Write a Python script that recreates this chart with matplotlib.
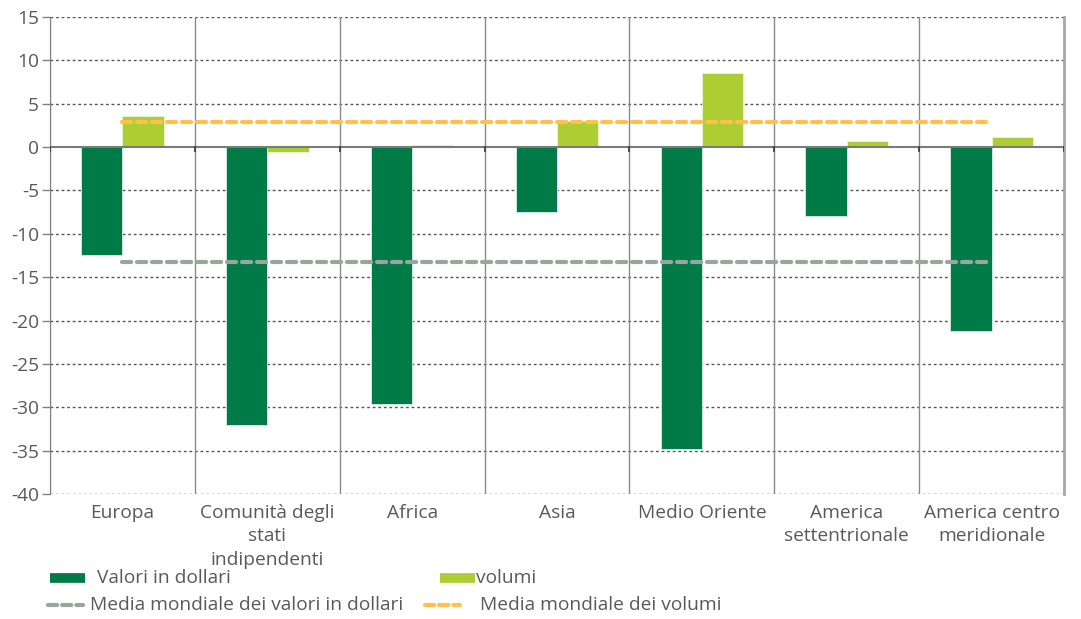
import matplotlib
matplotlib.use("Agg")
import matplotlib.pyplot as plt
from matplotlib.lines import Line2D
import numpy as np

categories = ["Europa", "Comunità degli\nstati\nindipendenti", "Africa", "Asia",
              "Medio Oriente", "America\nsettentrionale", "America centro\nmeridionale"]
valori_dollari = [-12.5, -32.0, -29.6, -7.5, -34.8, -8.0, -21.2]
volumi = [3.6, -0.6, 0.2, 3.0, 8.5, 0.7, 1.2]
media_valori = -13.3
media_volumi = 2.9
yticks = [15, 10, 5, 0, -5, -10, -15, -20, -25, -30, -35, -40]

DARK = "#007A47"
LIGHT = "#ADCD34"
ORANGE = "#FFC04C"
GREY = "#98A69E"
TXT = "#595959"
FS = 13.8

plt.rcParams['font.family'] = ['Open Sans', 'DejaVu Sans']

fig = plt.figure(figsize=(10.81, 6.19), dpi=100)
ax = fig.add_axes([50/1081, 1-494/619, (1064-50)/1081, 477/619])

x = np.arange(len(categories))
w = 0.285
ax.bar(x - w, valori_dollari, width=w, align='edge', color=DARK, edgecolor='#d8efe3', linewidth=0.6, zorder=3)
ax.bar(x, volumi, width=w, align='edge', color=LIGHT, edgecolor='#eef6d2', linewidth=0.6, zorder=3)

ax.plot([x[0], x[-1]], [media_volumi, media_volumi], color=ORANGE, lw=3, dashes=(2.2, 1.4), zorder=4,
        dash_capstyle='round')
ax.plot([x[0], x[-1]], [media_valori, media_valori], color=GREY, lw=3, dashes=(2.2, 1.4), zorder=4,
        dash_capstyle='round')

ax.set_xlim(-0.5, len(categories) - 0.5)
ax.set_ylim(-40, 15)
ax.set_yticks(yticks)
ax.set_yticklabels([str(t) for t in yticks])
for t in yticks:
    if t != 0:
        ax.axhline(t, color='#555555', lw=1, linestyle=(0, (2, 2)), zorder=1)
ax.axhline(0, color='#7a7a7a', lw=1.5, zorder=5)
for b in np.arange(-0.5, len(categories) + 0.5, 1.0):
    ax.axvline(b, color='#8a8a8a', lw=1, zorder=1)
    ax.plot([b, b], [0, -0.45], color='#404040', lw=1.3, zorder=5)

ax.set_xticks(x)
ax.set_xticklabels(categories, linespacing=1.4)
ax.tick_params(axis='x', length=0, pad=7, labelsize=FS, labelcolor=TXT)
ax.tick_params(axis='y', length=6, width=1, color='#808080', pad=2, labelsize=FS, labelcolor=TXT)
for s in ['top', 'bottom']:
    ax.spines[s].set_visible(False)
ax.spines['left'].set_color('#808080')
ax.spines['right'].set_color('#A6A6A6')
ax.spines['right'].set_linewidth(2)

# legend
H = 619.0
W = 1081.0
def fx(px): return px / W
def fy(py): return 1 - py / H

fig.add_artist(Line2D([fx(50), fx(85)], [fy(578), fy(578)], color=DARK, lw=7, solid_capstyle='butt'))
fig.text(fx(97), fy(578), "Valori in dollari", fontsize=FS, color=TXT, va='center')
fig.add_artist(Line2D([fx(440), fx(475)], [fy(578), fy(578)], color=LIGHT, lw=7, solid_capstyle='butt'))
fig.text(fx(476), fy(578), "volumi", fontsize=FS, color=TXT, va='center')
fig.add_artist(Line2D([fx(48), fx(83)], [fy(605), fy(605)], color=GREY, lw=3, dashes=(2.2, 1.2),
                      dash_capstyle='round'))
fig.text(fx(90), fy(605), "Media mondiale dei valori in dollari", fontsize=FS, color=TXT, va='center')
fig.add_artist(Line2D([fx(425), fx(460)], [fy(605), fy(605)], color=ORANGE, lw=3, dashes=(2.2, 1.2),
                      dash_capstyle='round'))
fig.text(fx(480), fy(605), "Media mondiale dei volumi", fontsize=FS, color=TXT, va='center')

fig.savefig("out.png", dpi=100)
